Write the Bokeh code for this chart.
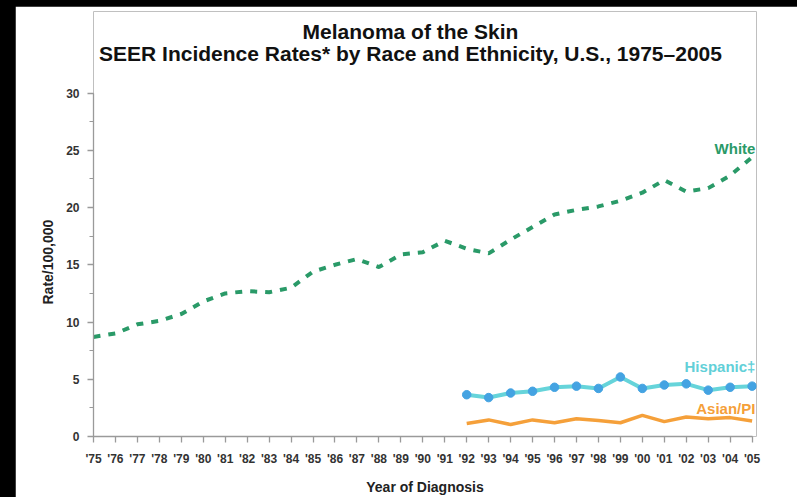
from bokeh.plotting import figure
from bokeh.models import Label, FixedTicker, SingleIntervalTicker, Range1d, Title
from bokeh.embed import file_html
from bokeh.resources import INLINE

years = list(range(1975, 2006))
x_tick_labels = ["'%02d" % (y % 100) for y in years]

white_rate = [8.7, 9.0, 9.8, 10.1, 10.7, 11.8, 12.5, 12.7, 12.6, 13.0, 14.4, 15.0, 15.5, 14.8,
              15.9, 16.1, 17.1, 16.4, 16.0, 17.2, 18.3, 19.4, 19.8, 20.1, 20.6, 21.3, 22.4,
              21.4, 21.7, 22.8, 24.4]
sub_years = list(range(1992, 2006))
hispanic_rate = [3.65, 3.4, 3.8, 3.95, 4.3, 4.4, 4.2, 5.2, 4.2, 4.5, 4.6, 4.05, 4.3, 4.4]
asian_rate = [1.13, 1.45, 1.05, 1.45, 1.2, 1.55, 1.4, 1.2, 1.85, 1.3, 1.7, 1.55, 1.65, 1.35]

FONT = "Liberation Sans"
GREEN = "#2a9a68"
CYAN = "#66d4da"
BLUE = "#44a3e2"
ORANGE = "#f5a03a"

# frame extends beyond the axis bounds so that titles and end labels are not clipped
p = figure(width=782, height=491, output_backend="svg", toolbar_location=None,
           x_range=Range1d(1975, 2005.2), y_range=Range1d(0, 37.13),
           min_border_left=78, min_border_right=41, min_border_top=5, min_border_bottom=59)
p.outline_line_color = None
p.xgrid.visible = False
p.ygrid.visible = False
p.background_fill_color = "white"
p.border_fill_color = "white"

# axes
p.xaxis.ticker = FixedTicker(ticks=years)
p.xaxis.bounds = (1975, 2005)
p.yaxis.bounds = (0, 30)
p.xaxis.major_label_overrides = {y: lab for y, lab in zip(years, x_tick_labels)}
p.yaxis.ticker = SingleIntervalTicker(interval=5, num_minor_ticks=2)
for ax in (p.xaxis, p.yaxis):
    ax.axis_line_color = "#9a9a9a"
    ax.axis_line_width = 1.3
    ax.major_tick_line_color = "#9a9a9a"
    ax.major_tick_line_width = 1.3
    ax.major_tick_in = 0
    ax.major_tick_out = 6
    ax.major_label_text_font = FONT
    ax.major_label_text_font_style = "bold"
    ax.major_label_text_color = "#333333"
    ax.axis_label_text_font = FONT
    ax.axis_label_text_font_style = "bold"
    ax.axis_label_text_color = "#222222"
p.xaxis.minor_tick_line_color = None
p.yaxis.minor_tick_line_color = "#9a9a9a"
p.yaxis.minor_tick_line_width = 1.2
p.yaxis.minor_tick_in = 0
p.yaxis.minor_tick_out = 4
p.xaxis.major_label_text_font_size = "12px"
p.yaxis.major_label_text_font_size = "12px"
p.xaxis.major_label_standoff = 9
p.yaxis.major_label_standoff = 8
p.xaxis.axis_label = "Year of Diagnosis"
p.xaxis.axis_label_text_font_size = "14px"
p.xaxis.axis_label_standoff = 10

# y-axis title, centred on the 0-30 span of the axis
p.add_layout(Title(text="Rate/100,000", align="left", offset=132, standoff=15,
                   text_font=FONT, text_font_style="bold", text_font_size="14px",
                   text_color="#222222"), "left")

# series
p.line(years, white_rate, line_color=GREEN, line_width=4, line_dash="7 8")
p.line(sub_years, hispanic_rate, line_color=CYAN, line_width=4)
p.scatter(sub_years, hispanic_rate, size=8.5, fill_color=BLUE, line_color=BLUE)
p.line(sub_years, asian_rate, line_color=ORANGE, line_width=3.5)

# series labels
for txt, yv, col in [("White", 25.2, GREEN), ("Hispanic\u2021", 6.1, "#62d0d8"), ("Asian/PI", 2.45, ORANGE)]:
    p.add_layout(Label(x=2005.15, y=yv, text=txt, text_color=col, text_font=FONT,
                       text_font_style="bold", text_font_size="15px",
                       text_align="right", text_baseline="middle"))

# titles
for txt, sy in [("Melanoma of the Skin", 405), ("SEER Incidence Rates* by Race and Ethnicity, U.S., 1975\u20132005", 383)]:
    p.add_layout(Label(x=317, y=sy, x_units="screen", y_units="screen", text=txt,
                       text_color="#111111", text_font=FONT, text_font_style="bold",
                       text_font_size="21px", text_align="center", text_baseline="middle"))

html = file_html(p, INLINE)
style = ("<style>html{background:#000000 !important;overflow:hidden !important;}"
         " body{background:#000000 !important;overflow:hidden !important;margin:6px 0 0 15px !important;}</style>")
html = html.replace("</head>", style + "</head>", 1)
open("out.html", "w").write(html)
